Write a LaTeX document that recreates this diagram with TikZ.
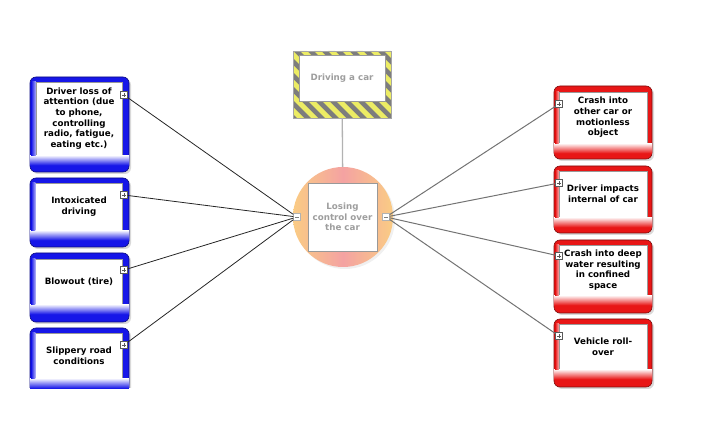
\documentclass[tikz,border=0pt]{standalone}
\usepackage{fontspec}
\setmainfont{DejaVu Sans}
\usetikzlibrary{shadows}

\definecolor{causeblue}{RGB}{22,22,232}
\definecolor{effectred}{RGB}{232,22,22}
\definecolor{hazardyellow}{RGB}{236,236,100}
\definecolor{hazardgray}{RGB}{125,125,125}
\definecolor{fadedtext}{RGB}{158,158,158}
\definecolor{ringpink}{RGB}{244,162,162}
\definecolor{ringorange}{RGB}{250,204,132}

\begin{document}
\begin{tikzpicture}[x=1pt,y=-1pt,
  causebox/.style={rectangle,rounded corners=6pt,draw=causeblue!55!black,line width=0.6pt,
    fill=causeblue,minimum width=99pt,inner sep=0pt,
    drop shadow={shadow xshift=2pt,shadow yshift=-2pt,opacity=0.3}},
  effectbox/.style={rectangle,rounded corners=6pt,draw=effectred!55!black,line width=0.6pt,
    fill=effectred,minimum width=98pt,inner sep=0pt,
    drop shadow={shadow xshift=2pt,shadow yshift=-2pt,opacity=0.3}},
  textbox/.style={rectangle,draw=gray!80,fill=white,line width=0.4pt,inner sep=0pt,
    align=center,font=\bfseries\fontsize{8.7}{10.7}\selectfont},
  plusbox/.style={rectangle,draw=gray!70!black,fill=white,line width=0.4pt,minimum size=7pt,inner sep=0pt,
    path picture={\draw[line width=0.5pt] ([xshift=1.5pt]path picture bounding box.west) -- ([xshift=-1.5pt]path picture bounding box.east)
      ([yshift=1.5pt]path picture bounding box.south) -- ([yshift=-1.5pt]path picture bounding box.north);}},
  minusbox/.style={rectangle,draw=gray!60,fill=white,line width=0.4pt,minimum size=7pt,inner sep=0pt,
    path picture={\draw[line width=0.5pt,gray] ([xshift=1.5pt]path picture bounding box.west) -- ([xshift=-1.5pt]path picture bounding box.east);}},
  causeline/.style={line width=0.8pt,black!85},
  effectline/.style={line width=1pt,black!55}]
  \useasboundingbox (0,0) rectangle (724,430);

  % Hazard frame of the top event
  \begin{scope}
    \clip (293,51) rectangle (391,118);
    \fill[hazardgray] (293,51) rectangle (391,118);
    \foreach \sx in {216,230,...,400}
      \fill[hazardyellow] (\sx,51) -- ++(7,0) -- ++(67,67) -- ++(-7,0) -- cycle;
  \end{scope}
  \node[rectangle,draw=gray!70,line width=0.5pt,minimum width=98pt,minimum height=67pt] (drive) at (342,84.5) {};
  \node[textbox,minimum width=86pt,minimum height=46pt,text=fadedtext] (driveT) at (342,78) {Driving a car};

  % Central event
  \node[circle,minimum size=100pt,inner sep=0pt,left color=ringorange,right color=ringorange,
    middle color=ringpink,drop shadow={shadow xshift=2pt,shadow yshift=-2pt,opacity=0.12}] (lose) at (343,217) {};
  \node[textbox,minimum width=69pt,minimum height=68pt,text=fadedtext] (loseT) at (342.5,217) {Losing\\control over\\the car};
  \node[minusbox] (loseL) at (297,217) {};
  \node[minusbox] (loseR) at (386,217) {};
  \draw[line width=1.3pt,gray!60] (drive) -- (lose);

  % Causes and consequences (frames)
  \node[causebox,minimum height=95pt] (attn) at (79.5,124.5) {};
  \node[causebox,minimum height=69pt] (drunk) at (79.5,212.5) {};
  \node[causebox,minimum height=69pt] (blow) at (79.5,287.5) {};
  \begin{scope}
    \clip (0,0) rectangle (724,388);
    \node[causebox,minimum height=69pt] (slip) at (79.5,362.5) {};
  \end{scope}
  \node[effectbox,minimum height=73pt] (crash) at (603,122.5) {};
  \node[effectbox,minimum height=67pt] (impact) at (603,199.5) {};
  \node[effectbox,minimum height=73pt] (water) at (603,276.5) {};
  \node[effectbox,minimum height=68pt] (roll) at (603,353) {};

  % Text panels
  \node[textbox,minimum width=86pt,minimum height=73pt] (attnT) at (79,118.5) {Driver loss of\\attention (due\\to phone,\\controlling\\radio, fatigue,\\eating etc.)};
  \node[textbox,minimum width=87pt,minimum height=47pt] (drunkT) at (79,206.5) {Intoxicated\\driving};
  \node[textbox,minimum width=87pt,minimum height=45pt] (blowT) at (79,281.5) {Blowout (tire)};
  \node[textbox,minimum width=87pt,minimum height=45pt] (slipT) at (79,355.5) {Slippery road\\conditions};
  \node[textbox,minimum width=88pt,minimum height=51pt] (crashT) at (603,117.5) {Crash into\\other car or\\motionless\\object};
  \node[textbox,minimum width=88pt,minimum height=46pt] (impactT) at (603,194) {Driver impacts\\internal of car};
  \node[textbox,minimum width=88pt,minimum height=50pt] (waterT) at (603,270) {Crash into deep\\water resulting\\in confined\\space};
  \node[textbox,minimum width=88pt,minimum height=45pt] (rollT) at (603,346.5) {Vehicle roll-\\over};

  % Glossy bands below and left of the panels
  \foreach \n/\c in {attn/causeblue,drunk/causeblue,blow/causeblue,slip/causeblue,
                     crash/effectred,impact/effectred,water/effectred,roll/effectred}
  {
    \shade[top color=white,bottom color=\c]
      ([xshift=0.4pt]\n.west |- \n T.south) rectangle ([xshift=-0.4pt,yshift=-10pt]\n.east |- \n T.south);
    \shade[left color=\c,right color=\c!35!white]
      ([xshift=1.5pt]\n.west |- \n T.north) rectangle (\n T.south west);
  }

  % Expand markers
  \node[plusbox] (attnP) at (124,95) {};
  \node[plusbox] (drunkP) at (124,195) {};
  \node[plusbox] (blowP) at (124,270) {};
  \node[plusbox] (slipP) at (124,345) {};
  \node[plusbox] (crashP) at (559,104) {};
  \node[plusbox] (impactP) at (559,183) {};
  \node[plusbox] (waterP) at (559,256) {};
  \node[plusbox] (rollP) at (559,336) {};

  % Links
  \draw[causeline] (attnP) -- (loseL);
  \draw[causeline] (drunkP) -- (loseL);
  \draw[causeline] (blowP) -- (loseL);
  \draw[causeline] (slipP) -- (loseL);
  \draw[effectline] (loseR) -- (crashP);
  \draw[effectline] (loseR) -- (impactP);
  \draw[effectline] (loseR) -- (waterP);
  \draw[effectline] (loseR) -- (rollP);
\end{tikzpicture}
\end{document}
